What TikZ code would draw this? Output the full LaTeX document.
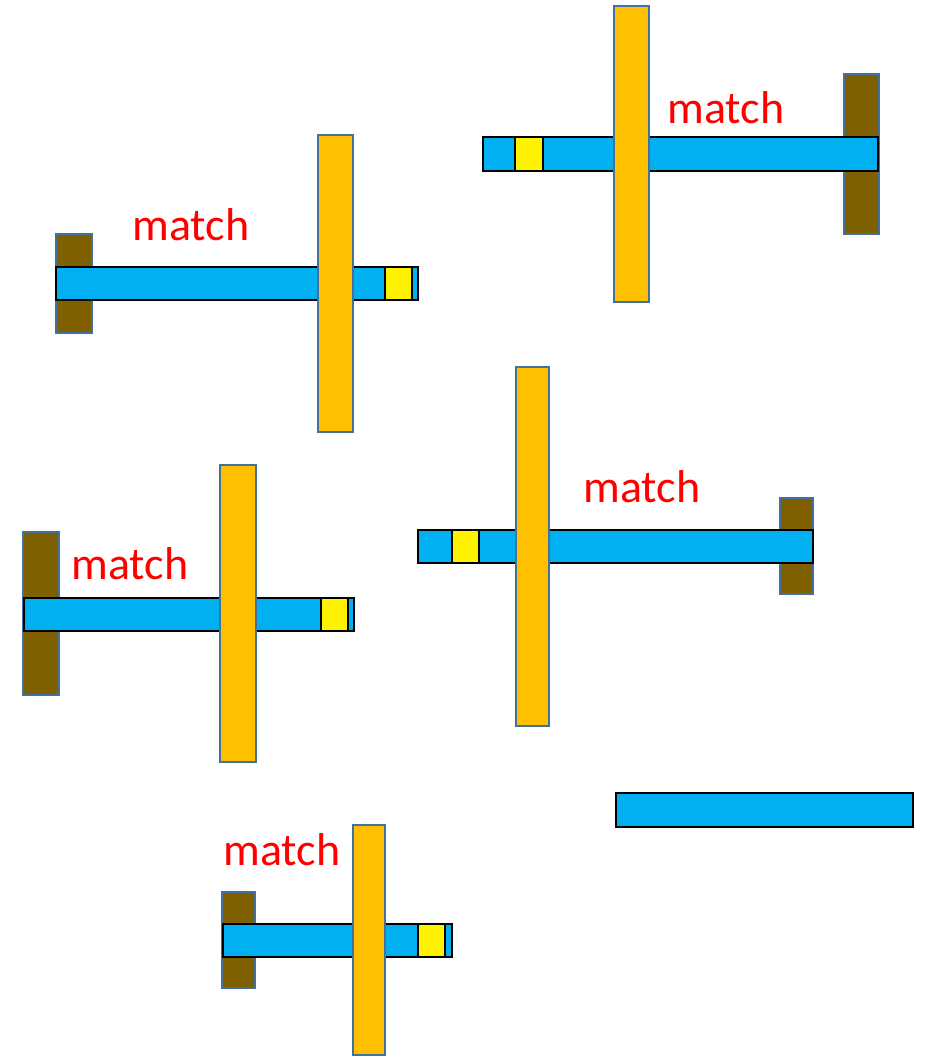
\documentclass[tikz,border=0pt]{standalone}
\usepackage{fontspec}
\setmainfont{Carlito}
\definecolor{bodyblue}{HTML}{00B0F0}
\definecolor{wingorange}{HTML}{FFC000}
\definecolor{tailbrown}{HTML}{7F6000}
\definecolor{edgeblue}{HTML}{41719C}
\definecolor{labelred}{HTML}{FF0000}
\tikzset{
  body/.style={fill=bodyblue, draw=black, line width=2.4pt},
  nose/.style={fill=yellow, draw=black, line width=2.4pt},
  wing/.style={fill=wingorange, draw=edgeblue, line width=1.5pt},
  tail/.style={fill=tailbrown, draw=edgeblue, line width=1.5pt},
  lbl/.style={text=labelred, font=\fontsize{46}{50}\selectfont, anchor=base, inner sep=0pt}
}
\begin{document}
\begin{tikzpicture}[x=1pt,y=-1pt]
\useasboundingbox (0,0) rectangle (925,1057);
% plane 1 (top left)
\draw[tail] (56,234) rectangle (92,333);
\draw[body] (56,267) rectangle (418,300);
\draw[nose] (385,267) rectangle (412,300);
\draw[wing] (318,135) rectangle (353,432);
\node[lbl] (m1) at (191,240) {match};
% plane 2 (top right)
\draw[tail] (844,74) rectangle (879,234);
\draw[body] (483,137) rectangle (878,171);
\draw[nose] (515,137) rectangle (543,171);
\draw[wing] (614,6) rectangle (649,302);
\node[lbl] (m2) at (726,123) {match};
% plane 3 (middle left)
\draw[tail] (23,532) rectangle (59,695);
\draw[body] (24,598) rectangle (354,631);
\draw[nose] (321,598) rectangle (348,631);
\draw[wing] (220,465) rectangle (256,762);
\node[lbl] (m3) at (130,579) {match};
% plane 4 (centre)
\draw[tail] (780,498) rectangle (813,594);
\draw[body] (418,530) rectangle (813,563);
\draw[nose] (452,530) rectangle (479,563);
\draw[wing] (516,367) rectangle (549,726);
\node[lbl] (m4) at (642,502) {match};
% plane 5 (bottom)
\draw[tail] (222,892) rectangle (255,988);
\draw[body] (223,924) rectangle (452,957);
\draw[nose] (418,924) rectangle (445,957);
\draw[wing] (353,825) rectangle (385,1055);
\node[lbl] (m5) at (282,865) {match};
% lone body
\draw[body] (616,793) rectangle (913,827);
\end{tikzpicture}
\end{document}
